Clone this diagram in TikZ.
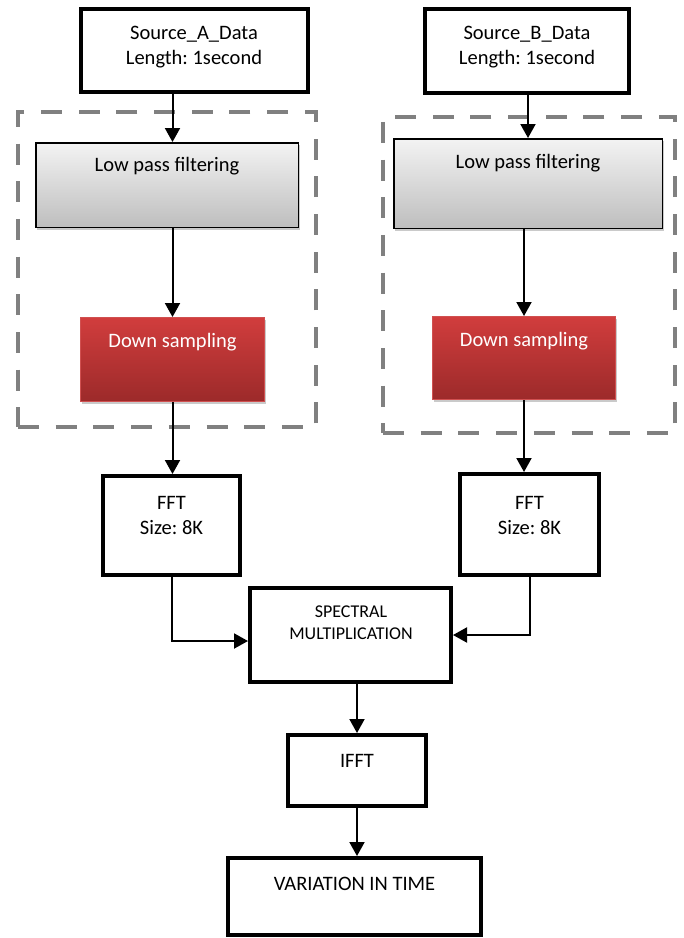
\documentclass[tikz,border=0pt]{standalone}
\usepackage{fontspec}
\setmainfont{Carlito}
\usetikzlibrary{arrows.meta,shadows}
\definecolor{dashgray}{HTML}{808080}
\definecolor{lptop}{HTML}{F3F3F3}
\definecolor{lpbot}{HTML}{BEBEBE}
\definecolor{dstop}{HTML}{D13D3D}
\definecolor{dsbot}{HTML}{9C2A2A}
\definecolor{dsedge}{HTML}{D05050}
\frenchspacing
\begin{document}
\begin{tikzpicture}[x=1pt,y=-1pt,
  thickbox/.style={draw=black,line width=4pt,fill=white,inner sep=0pt},
  dashbox/.style={draw=dashgray,line width=4pt,dash pattern=on 21pt off 16.7pt,inner sep=0pt},
  lpbox/.style={draw=black,line width=1.5pt,top color=lptop,bottom color=lpbot,inner sep=0pt,
    drop shadow={shadow xshift=1.5pt,shadow yshift=-2.5pt,fill=black!35,opacity=0.6}},
  dsbox/.style={draw=dsedge,line width=1pt,top color=dstop,bottom color=dsbot,inner sep=0pt,
    drop shadow={shadow xshift=1.5pt,shadow yshift=-2.5pt,fill=black!35,opacity=0.6}},
  txt/.style={align=center,inner sep=0pt,font=\fontsize{20.5}{25}\selectfont},
  smalltxt/.style={align=center,inner sep=0pt,font=\fontsize{18}{22}\selectfont},
  arr/.style={draw=black,line width=2pt,-{Triangle[length=14pt,width=15pt]}}
]
\useasboundingbox (0,0) rectangle (684,938);
% dashed groups
\node[dashbox,minimum width=298pt,minimum height=315pt] (dashA) at (167,269.5) {};
\node[dashbox,minimum width=292pt,minimum height=316pt] (dashB) at (529,275) {};
% sources
\node[thickbox,minimum width=227pt,minimum height=83pt] (srcA) at (194.5,50.5) {};
\node[txt] (srcAt) at (194,47.5) {Source\_A\_Data\\Length: 1second};
\node[thickbox,minimum width=204pt,minimum height=84pt] (srcB) at (527,51) {};
\node[txt] (srcBt) at (527,47.5) {Source\_B\_Data\\Length: 1second};
% low pass
\node[lpbox,minimum width=262.5pt,minimum height=84.5pt] (lpA) at (167,185) {};
\node[txt] (lpAt) at (167,166) {Low pass filtering};
\node[lpbox,minimum width=268.5pt,minimum height=89.5pt] (lpB) at (528,183.5) {};
\node[txt] (lpBt) at (528,163) {Low pass filtering};
% down sampling
\node[dsbox,minimum width=184pt,minimum height=84pt] (dsA) at (172.5,359.5) {};
\node[txt,text=white] (dsAt) at (172.5,342) {Down sampling};
\node[dsbox,minimum width=183pt,minimum height=83pt] (dsB) at (524,358) {};
\node[txt,text=white] (dsBt) at (524,341) {Down sampling};
% FFT
\node[thickbox,minimum width=137pt,minimum height=99pt] (fftA) at (171.5,525.5) {};
\node[txt] (fftAt) at (171.5,515) {FFT\\Size: 8K};
\node[thickbox,minimum width=139pt,minimum height=101pt] (fftB) at (529.5,524.5) {};
\node[txt] (fftBt) at (529.5,515) {FFT\\Size: 8K};
% spectral
\node[thickbox,minimum width=201pt,minimum height=94pt] (spec) at (350.5,635) {};
\node[smalltxt] (spect) at (351,623) {SPECTRAL\\MULTIPLICATION};
% IFFT
\node[thickbox,minimum width=138pt,minimum height=71pt] (ifft) at (357,770.5) {};
\node[txt] (ifftt) at (357,761) {IFFT};
% variation
\node[thickbox,minimum width=253pt,minimum height=77pt] (var) at (354.5,896.5) {};
\node[txt] (vart) at (354.5,884) {VARIATION IN TIME};
% connectors
\draw[arr] (srcA.south -| dsA.center) -- (lpA.north -| dsA.center);
\draw[arr] (lpA.south -| dsA.center) -- (dsA.north);
\draw[arr] (dsA.south) -- (fftA.north -| dsA.center);
\draw[arr] (srcB.south -| lpB.center) -- (lpB.north);
\draw[arr] (lpB.south -| dsB.center) -- (dsB.north);
\draw[arr] (dsB.south) -- (fftB.north -| dsB.center);
\draw[arr] (fftA.south) |- ([yshift=-6pt]spec.west);
\draw[arr] (fftB.south) |- (spec.east);
\draw[arr] (spec.south -| ifft.center) -- (ifft.north);
\draw[arr] (ifft.south) -- (var.north -| ifft.center);
\end{tikzpicture}
\end{document}
